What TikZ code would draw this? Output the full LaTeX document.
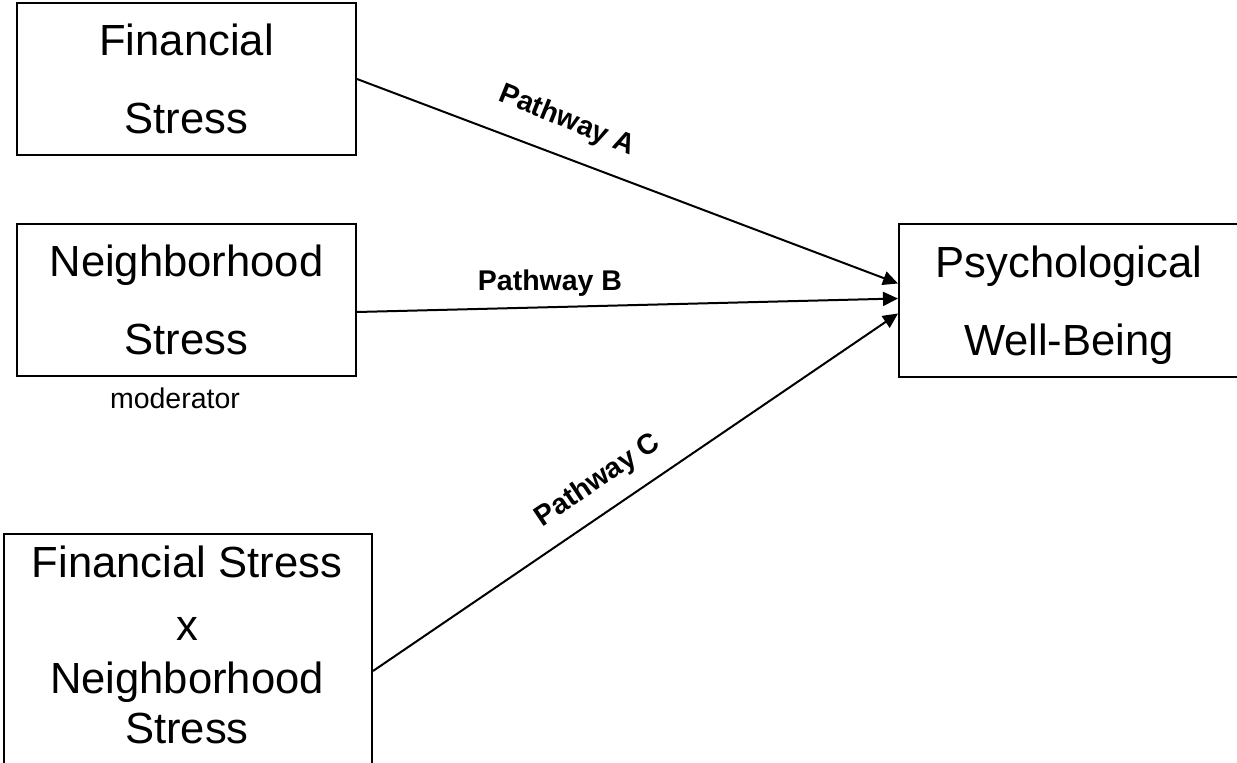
\documentclass[tikz,border=0pt]{standalone}
\usepackage{fontspec}
\setmainfont{Liberation Sans}
\usetikzlibrary{arrows.meta}
\begin{document}
\begin{tikzpicture}[x=1pt,y=-1pt,
  box/.style={draw, line width=2pt, inner sep=0pt, align=center,
    font=\fontsize{43.6}{78}\selectfont, text depth=0pt},
  bigtext/.style={inner sep=0pt, align=center, font=\fontsize{43.6}{50}\selectfont},
  lbl/.style={inner sep=0pt, font=\fontsize{28.5}{30}\selectfont\bfseries},
  note/.style={inner sep=0pt, font=\fontsize{28.5}{30}\selectfont},
  conn/.style={line width=2pt, -{Triangle[length=15pt,width=14pt]}}]
\useasboundingbox[fill=white] (0,0) rectangle (1237,763);

\node[box, minimum width=339pt, minimum height=152pt] (fin) at (186.5,79) {Financial\\Stress};
\node[box, minimum width=339pt, minimum height=152pt] (nbh) at (186.5,300) {Neighborhood\\Stress};
\node[box, minimum width=340pt, minimum height=153pt] (psy) at (1069,300.5) {Psychological\\Well-Being};
\node[box, minimum width=368pt, minimum height=260pt, anchor=north west] (fxn) at (3,533) {};
\node[bigtext, anchor=north] (fxnt) at (187,546) {Financial Stress\\[13pt]x\\[3pt]Neighborhood\\Stress};
\node[note] (mod) at (175,398) {moderator};

\draw[conn] (fin.east) -- ([yshift=17pt]psy.west);
\draw[conn] ([yshift=-12pt]nbh.east) -- ([yshift=2pt]psy.west);
\draw[conn] ([yshift=-7pt]fxn.east) -- ([yshift=-13pt]psy.west);

\node[lbl, rotate=-22] (la) at (567,121) {Pathway A};
\node[lbl] (lb) at (550,283) {Pathway B};
\node[lbl, rotate=34] (lc) at (598,481) {Pathway C};
\end{tikzpicture}
\end{document}
